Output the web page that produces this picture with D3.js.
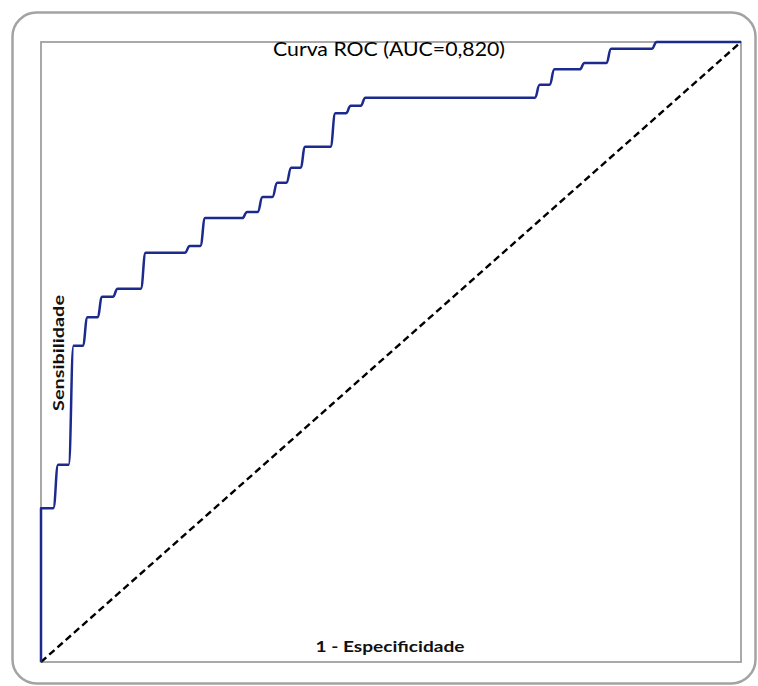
<!DOCTYPE html>
<html>
<head>
<meta charset="utf-8">
<script src="https://cdn.jsdelivr.net/npm/d3@7"></script>
<style>
  html, body { margin: 0; padding: 0; background: #fff; }
  svg { display: block; }
</style>
</head>
<body>
<svg id="chart" width="758" height="686"></svg>
<script>
// ROC curve: false positive rate (1 - especificidade) at each step
const stepFpr = [0.000, 0.021, 0.043, 0.063, 0.084, 0.106, 0.146, 0.209, 0.231,
                 0.291, 0.313, 0.334, 0.354, 0.374, 0.417, 0.439, 0.460, 0.709,
                 0.730, 0.773, 0.811, 0.876];
// sensitivity reached after each step
const stepTpr = [0.248, 0.318, 0.510, 0.556, 0.589, 0.602, 0.660, 0.671, 0.716,
                 0.726, 0.750, 0.773, 0.797, 0.831, 0.885, 0.897, 0.910, 0.931,
                 0.956, 0.966, 0.989, 1.000];
const diagonal = [[0, 0], [1, 1]];
const titleText = "Curva ROC (AUC=0,820)";
const xLabel = "1 - Especificidade";
const yLabel = "Sensibilidade";

const svg = d3.select("#chart");
const plot = { left: 41, top: 42, right: 741, bottom: 662 };
const font = "Lato, 'Open Sans', sans-serif";

const x = d3.scaleLinear().domain([0, 1]).range([plot.left, plot.right]);
const y = d3.scaleLinear().domain([0, 1]).range([plot.bottom, plot.top]);

// outer rounded frame
svg.append("rect")
  .attr("x", 12.5).attr("y", 12.5)
  .attr("width", 743).attr("height", 671)
  .attr("rx", 24).attr("ry", 24)
  .attr("fill", "#fff")
  .attr("stroke", "#a3a3a3")
  .attr("stroke-width", 2.5);

// plot area frame
svg.append("rect")
  .attr("x", plot.left).attr("y", plot.top)
  .attr("width", plot.right - plot.left)
  .attr("height", plot.bottom - plot.top)
  .attr("fill", "none")
  .attr("stroke", "#a0a0a0")
  .attr("stroke-width", 1.8);

// title
svg.append("text")
  .attr("x", 389).attr("y", 56)
  .attr("text-anchor", "middle")
  .attr("font-family", font)
  .attr("font-size", 19)
  .attr("fill", "#000")
  .attr("textLength", 232)
  .attr("lengthAdjust", "spacingAndGlyphs")
  .text(titleText);

// staircase points; third value marks the bottom (-1) or top (+1) of a rise
const rocPoints = [[0, 0, 0]];
let prev = 0;
stepFpr.forEach((f, i) => {
  rocPoints.push([f, prev, -1]);
  rocPoints.push([f, stepTpr[i], 1]);
  prev = stepTpr[i];
});
rocPoints.push([1, 1, 0]);

// each rise is drawn as a smooth S spanning a few pixels (the first rise sits on the axis)
const riseHalfWidth = 2.5;
const px = d => d[0] === 0 ? plot.left : x(d[0]) + d[2] * riseHalfWidth;

// chance line
svg.append("path")
  .datum(diagonal)
  .attr("d", d3.line().x(d => x(d[0])).y(d => y(d[1])))
  .attr("fill", "none")
  .attr("stroke", "#000")
  .attr("stroke-width", 2.4)
  .attr("stroke-dasharray", "7,4");

// ROC curve
svg.append("path")
  .datum(rocPoints)
  .attr("d", d3.line()
    .x(px).y(d => y(d[1]))
    .curve(d3.curveBumpX))
  .attr("fill", "none")
  .attr("stroke", "#1c2a8e")
  .attr("stroke-width", 2.5)
  .attr("stroke-linejoin", "round");

// axis labels
svg.append("text")
  .attr("x", 390).attr("y", 652)
  .attr("text-anchor", "middle")
  .attr("font-family", font)
  .attr("font-weight", "bold")
  .attr("font-size", 16)
  .attr("fill", "#111")
  .attr("textLength", 149)
  .attr("lengthAdjust", "spacingAndGlyphs")
  .text(xLabel);

svg.append("text")
  .attr("transform", "translate(64,353) rotate(-90)")
  .attr("text-anchor", "middle")
  .attr("font-family", font)
  .attr("font-weight", "bold")
  .attr("font-size", 16)
  .attr("fill", "#111")
  .attr("textLength", 116)
  .attr("lengthAdjust", "spacingAndGlyphs")
  .text(yLabel);
</script>
</body>
</html>
